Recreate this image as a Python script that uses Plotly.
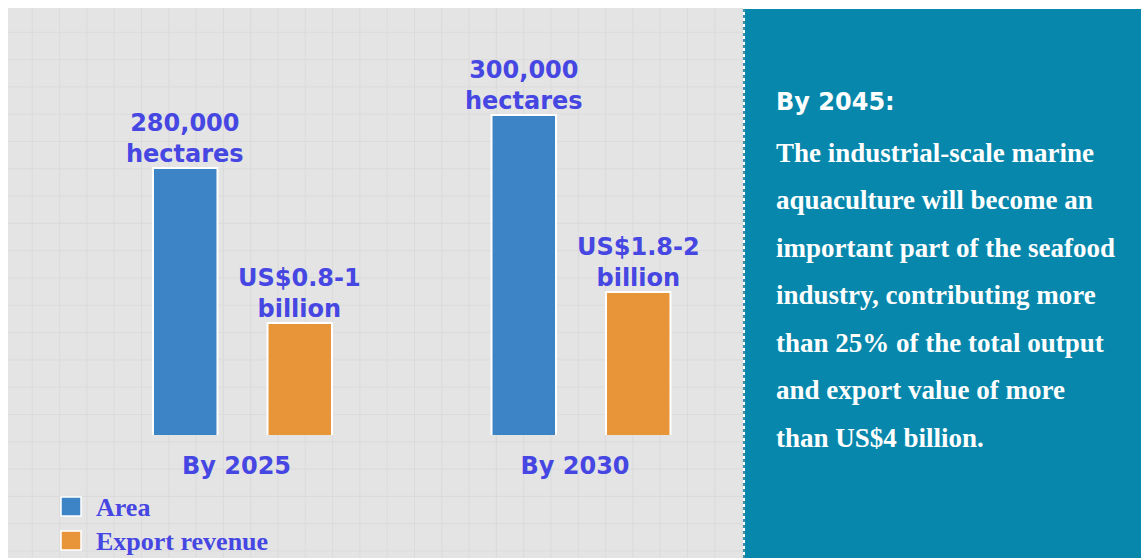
import math
import plotly.graph_objects as go

# ---- data ----
periods = ["By 2025", "By 2030"]
area_hectares = [280000, 300000]
export_low_bn = [0.8, 1.8]
export_high_bn = [1, 2]
series_names = ["Area", "Export revenue"]

outlook_title = "By 2045:"
outlook_lines = [
    "The industrial-scale marine",
    "aquaculture will become an",
    "important part of the seafood",
    "industry, contributing more",
    "than 25% of the total output",
    "and export value of more",
    "than US$4 billion.",
]

# ---- styling ----
W, H = 1141, 558
BLUE = "#3d84c6"
ORANGE = "#e8953a"
LABEL = "#4646e2"
TEAL = "#0787ab"
PANEL = "#e4e4e4"
GRID = "#dbdbdb"
SANS = "DejaVu Sans"
SERIF = "Liberation Serif"
GROUP_SHIFT = 57.25  # pixel offset of each bar from its category centre


def px_x(p):
    return p / W


def px_y(p):
    return 1 - p / H


area_text = [f"{v:,}<br>hectares" for v in area_hectares]
export_text = [f"US${lo:g}-{hi:g}<br>billion" for lo, hi in zip(export_low_bn, export_high_bn)]

fig = go.Figure()
fig.add_trace(go.Bar(
    name=series_names[0], x=periods, y=area_hectares, yaxis="y",
    offsetgroup="area", marker=dict(color=BLUE, line=dict(color="white", width=2)),
    showlegend=False,
))
fig.add_trace(go.Bar(
    name=series_names[1], x=periods, y=export_high_bn, yaxis="y2",
    offsetgroup="export", marker=dict(color=ORANGE, line=dict(color="white", width=2)),
    showlegend=False,
))

shapes = []
# chart panel with a faint square grid
shapes.append(dict(type="rect", xref="paper", yref="paper", layer="below",
                   x0=px_x(8), x1=px_x(743), y0=0, y1=px_y(8),
                   fillcolor=PANEL, line=dict(width=0)))
step = 27.3
gx = 5.0
while gx < 743:
    if gx > 8:
        shapes.append(dict(type="line", xref="paper", yref="paper", layer="below",
                           x0=px_x(gx), x1=px_x(gx), y0=0, y1=px_y(8),
                           line=dict(color=GRID, width=1)))
    gx += step
gy = 5.0
while gy < H:
    if gy > 8:
        shapes.append(dict(type="line", xref="paper", yref="paper", layer="below",
                           x0=px_x(8), x1=px_x(743), y0=px_y(gy), y1=px_y(gy),
                           line=dict(color=GRID, width=1)))
    gy += step
# outlook panel
shapes.append(dict(type="rect", xref="paper", yref="paper", layer="below",
                   x0=px_x(745), x1=1, y0=0, y1=px_y(9),
                   fillcolor=TEAL, line=dict(width=0)))
shapes.append(dict(type="line", xref="paper", yref="paper", layer="below",
                   x0=px_x(744), x1=px_x(744), y0=0, y1=px_y(9),
                   line=dict(color="#3f8fa8", width=2, dash="dot")))

# legend swatches
legend_rows = [(497, BLUE), (531, ORANGE)]
for top, col in legend_rows:
    shapes.append(dict(type="rect", xref="paper", yref="paper",
                       x0=px_x(61), x1=px_x(81), y0=px_y(top + 19), y1=px_y(top),
                       fillcolor=col, line=dict(color="white", width=1.5)))

annotations = []
# value labels above each bar
label_font = dict(family=SANS, size=24, color=LABEL, weight="bold")
for p, v, t in zip(periods, area_hectares, area_text):
    annotations.append(dict(xref="x", yref="y", x=p, y=v, xshift=-GROUP_SHIFT, yshift=-2,
                            xanchor="center", yanchor="bottom", showarrow=False,
                            text=t, font=label_font))
for p, v, t in zip(periods, export_high_bn, export_text):
    annotations.append(dict(xref="x", yref="y2", x=p, y=math.log10(v), xshift=GROUP_SHIFT, yshift=-2,
                            xanchor="center", yanchor="bottom", showarrow=False,
                            text=t, font=label_font))

for (top, _), name in zip(legend_rows, series_names):
    annotations.append(dict(xref="paper", yref="paper", x=px_x(94), y=px_y(top + 10),
                            xanchor="left", yanchor="middle", showarrow=False,
                            text=name, font=dict(family=SERIF, size=26, color=LABEL, weight="bold")))

annotations.append(dict(xref="paper", yref="paper", x=px_x(774), y=px_y(101.5),
                        xanchor="left", yanchor="middle", showarrow=False,
                        text=outlook_title, font=dict(family=SANS, size=24, color="white", weight="bold")))
for i, line in enumerate(outlook_lines):
    baseline = 161.7 + 47.5 * i
    annotations.append(dict(xref="paper", yref="paper", x=px_x(774), y=px_y(baseline - 9.1),
                            xanchor="left", yanchor="middle", showarrow=False,
                            text=line, font=dict(family=SERIF, size=27, color="white", weight="bold")))

fig.update_layout(
    width=W, height=H,
    margin=dict(l=0, r=0, t=0, b=0),
    paper_bgcolor="white", plot_bgcolor="rgba(0,0,0,0)",
    barmode="group", bargap=0.3235, bargroupgap=0.437,
    showlegend=False,
    xaxis=dict(domain=[px_x(73.25), px_x(750.25)], range=[-0.5, 1.5],
               showgrid=False, zeroline=False, showline=False, ticks="",
               ticklabelstandoff=14, ticklabelshift=-6,
               tickfont=dict(family=SANS, size=24, color=LABEL, weight="bold")),
    yaxis=dict(domain=[px_y(435), px_y(8)], range=[179245, 340377],
               visible=False, showgrid=False, zeroline=False),
    yaxis2=dict(domain=[px_y(435), px_y(8)], overlaying="y", type="log",
                range=[-1.0876, 3.0589], visible=False, showgrid=False, zeroline=False),
    shapes=shapes,
    annotations=annotations,
)

fig.write_html("out.html")
